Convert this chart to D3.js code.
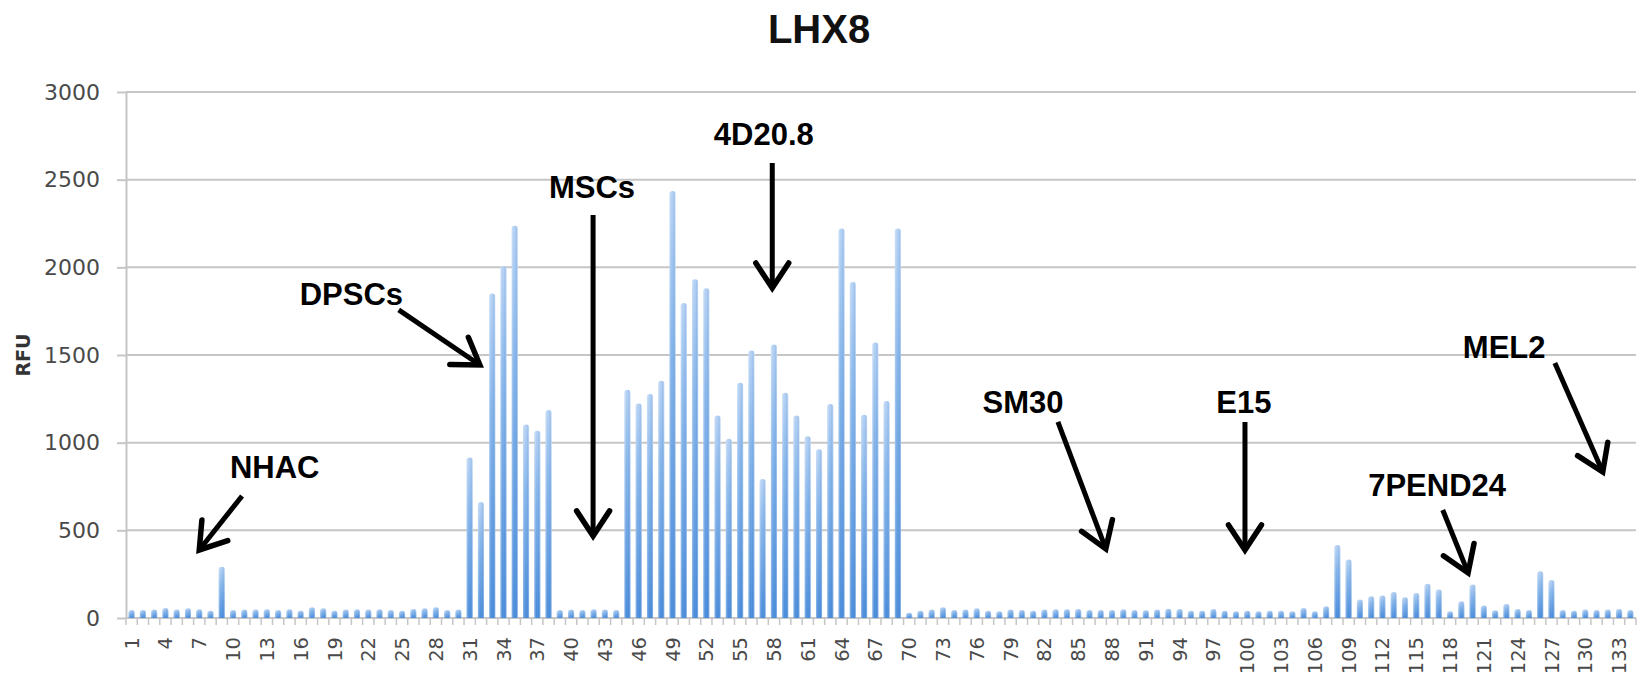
<!DOCTYPE html>
<html>
<head>
<meta charset="utf-8">
<script src="https://cdn.jsdelivr.net/npm/d3@7/dist/d3.min.js"></script>
<style>
  body { margin: 0; background: #fff; }
  svg { display: block; }
</style>
</head>
<body>
<svg id="chart" width="1642" height="677"></svg>
<script>
// ---- data ----
const chartTitle = "LHX8";
const yAxisTitle = "RFU";
const sampleIds = d3.range(1, 135);
const rfuValues = [
  45, 45, 48, 57, 48, 55, 50, 42, 293, 45,
  48, 48, 50, 45, 50, 42, 62, 55, 42, 48,
  50, 48, 50, 45, 42, 52, 55, 62, 45, 48,
  915, 661, 1851, 2008, 2237, 1104, 1068, 1186, 45, 48,
  45, 50, 48, 45, 1302, 1224, 1277, 1353, 2435, 1796,
  1932, 1881, 1155, 1023, 1342, 1526, 793, 1560, 1285, 1155,
  1037, 962, 1220, 2221, 1916, 1159, 1572, 1237, 2221, 30,
  42, 48, 61, 46, 48, 55, 42, 38, 48, 46,
  42, 48, 50, 50, 52, 46, 46, 46, 50, 46,
  44, 48, 53, 51, 42, 42, 51, 42, 38, 42,
  38, 42, 42, 38, 57, 38, 67, 416, 334, 105,
  124, 128, 149, 118, 143, 195, 162, 38, 95, 191,
  72, 44, 80, 51, 45, 266, 217, 45, 42, 48,
  45, 48, 52, 45
];
const yTickValues = [0, 500, 1000, 1500, 2000, 2500, 3000];
const xLabelEvery = 3;

// annotations, anchored in data units (sample position, RFU)
const noteLabels   = ["NHAC", "DPSCs", "MSCs", "4D20.8", "SM30", "E15", "7PEND24", "MEL2"];
const noteTextAt   = [[13.7, 800], [20.5, 1785], [41.85, 2395], [57.1, 2698], [80.1, 1169], [99.7, 1169], [116.85, 696], [122.8, 1483]];
const noteArrowFrom = [[10.8, 696], [24.7, 1757], [41.95, 2298], [57.85, 2595], [83.2, 1118], [99.8, 1118], [117.35, 616], [127.3, 1454]];
const noteArrowTo   = [[7.0, 388], [31.9, 1443], [41.95, 468], [57.85, 1882], [87.45, 394], [99.8, 388], [119.6, 257], [131.55, 833]];

// ---- layout ----
const plot = { left: 126, right: 1636, top: 92, bottom: 618 };

const svg = d3.select("#chart");

const x = d3.scaleBand()
  .domain(sampleIds)
  .range([plot.left, plot.right])
  .paddingInner(0)
  .paddingOuter(0);

const y = d3.scaleLinear()
  .domain([0, 3000])
  .range([plot.bottom, plot.top]);

// continuous position along the sample axis (1 = centre of first band)
const xPos = c => plot.left + (c - 0.5) * x.step();

// ---- gradients for the glossy bars ----
const defs = svg.append("defs");
const vGrad = defs.append("linearGradient")
  .attr("id", "barFill").attr("x1", 0).attr("y1", 0).attr("x2", 0).attr("y2", 1);
vGrad.append("stop").attr("offset", "0%").attr("stop-color", "#b6d2f4");
vGrad.append("stop").attr("offset", "35%").attr("stop-color", "#86b5ea");
vGrad.append("stop").attr("offset", "100%").attr("stop-color", "#4a8cda");

const hGrad = defs.append("linearGradient")
  .attr("id", "barGloss").attr("x1", 0).attr("y1", 0).attr("x2", 1).attr("y2", 0);
hGrad.append("stop").attr("offset", "0%").attr("stop-color", "#ffffff").attr("stop-opacity", 0.35);
hGrad.append("stop").attr("offset", "35%").attr("stop-color", "#ffffff").attr("stop-opacity", 0.0);
hGrad.append("stop").attr("offset", "70%").attr("stop-color", "#2f6fc0").attr("stop-opacity", 0.12);
hGrad.append("stop").attr("offset", "100%").attr("stop-color", "#ffffff").attr("stop-opacity", 0.45);

// ---- gridlines ----
svg.append("g").attr("class", "grid")
  .selectAll("line").data(yTickValues).join("line")
  .attr("x1", plot.left).attr("x2", plot.right)
  .attr("y1", d => y(d)).attr("y2", d => y(d))
  .attr("stroke", "#c6c6c6").attr("stroke-width", 2);

// ---- y axis ----
const yAxis = svg.append("g")
  .attr("transform", `translate(${plot.left},0)`)
  .call(d3.axisLeft(y).tickValues(yTickValues).tickFormat(d3.format("d"))
    .tickSize(9).tickSizeOuter(0).tickPadding(17));
yAxis.select(".domain").attr("stroke", "#c6c6c6").attr("stroke-width", 2);
yAxis.selectAll(".tick line").attr("stroke", "#c6c6c6").attr("stroke-width", 2);
yAxis.selectAll(".tick text")
  .attr("font-family", "'DejaVu Sans', sans-serif")
  .attr("font-size", 22).attr("fill", "#4a4a4a");

// ---- x axis: tick marks on band boundaries, labels every third sample ----
svg.append("g").attr("class", "xticks")
  .selectAll("line").data(d3.range(0, sampleIds.length + 1)).join("line")
  .attr("x1", i => plot.left + i * x.step()).attr("x2", i => plot.left + i * x.step())
  .attr("y1", plot.bottom).attr("y2", plot.bottom + 7)
  .attr("stroke", "#c6c6c6").attr("stroke-width", 1.5);

const xAxis = svg.append("g")
  .attr("transform", `translate(0,${plot.bottom})`)
  .call(d3.axisBottom(x)
    .tickValues(sampleIds.filter((d, i) => i % xLabelEvery === 0))
    .tickSize(0).tickSizeOuter(0));
xAxis.select(".domain").remove();
xAxis.selectAll(".tick text")
  .attr("transform", "rotate(-90)")
  .attr("x", -19).attr("y", 0).attr("dy", "0.36em")
  .attr("text-anchor", "end")
  .attr("font-family", "'DejaVu Sans', sans-serif")
  .attr("font-size", 19.5).attr("fill", "#4a4a4a");

// ---- bars ----
const barW = x.bandwidth() * 0.54;
function barPath(d, i) {
  const x0 = x(sampleIds[i]) + (x.bandwidth() - barW) / 2;
  const yb = y(0), yt = y(d);
  const r = Math.min(barW / 2, yb - yt);
  return `M${x0},${yb}V${yt + r}A${barW / 2},${r} 0 0 1 ${x0 + barW},${yt + r}V${yb}Z`;
}
const bars = svg.append("g").attr("class", "bars");
bars.selectAll("path.fill").data(rfuValues).join("path")
  .attr("class", "fill").attr("d", barPath).attr("fill", "url(#barFill)");
bars.selectAll("path.gloss").data(rfuValues).join("path")
  .attr("class", "gloss").attr("d", barPath).attr("fill", "url(#barGloss)");

// ---- title ----
svg.append("text")
  .attr("x", 819).attr("y", 43)
  .attr("text-anchor", "middle")
  .attr("font-family", "'Liberation Sans', Arial, sans-serif")
  .attr("font-weight", "bold").attr("font-size", 40).attr("fill", "#111")
  .text(chartTitle);

// ---- y axis title ----
svg.append("text")
  .attr("transform", `translate(30,${(plot.top + plot.bottom) / 2}) rotate(-90)`)
  .attr("text-anchor", "middle")
  .attr("font-family", "'DejaVu Sans', sans-serif")
  .attr("font-weight", "bold").attr("font-size", 19).attr("fill", "#333")
  .text(yAxisTitle);

// ---- annotations ----
const notes = svg.append("g").attr("class", "notes");
noteLabels.forEach((label, i) => {
  const [tc, tv] = noteTextAt[i];
  notes.append("text")
    .attr("x", xPos(tc)).attr("y", y(tv))
    .attr("text-anchor", "middle")
    .attr("font-family", "'Liberation Sans', Arial, sans-serif")
    .attr("font-weight", "bold").attr("font-size", 31).attr("fill", "#000")
    .text(label);

  const x1 = xPos(noteArrowFrom[i][0]), y1 = y(noteArrowFrom[i][1]);
  const x2 = xPos(noteArrowTo[i][0]),   y2 = y(noteArrowTo[i][1]);
  const ang = Math.atan2(y2 - y1, x2 - x1);
  const headLen = 30, spread = Math.PI / 5.4;
  const hx1 = x2 - headLen * Math.cos(ang - spread), hy1 = y2 - headLen * Math.sin(ang - spread);
  const hx2 = x2 - headLen * Math.cos(ang + spread), hy2 = y2 - headLen * Math.sin(ang + spread);
  notes.append("line")
    .attr("x1", x1).attr("y1", y1).attr("x2", x2).attr("y2", y2)
    .attr("stroke", "#000").attr("stroke-width", 5);
  notes.append("path")
    .attr("d", `M${hx1},${hy1}L${x2},${y2}L${hx2},${hy2}`)
    .attr("fill", "none").attr("stroke", "#000").attr("stroke-width", 5.5)
    .attr("stroke-linejoin", "miter").attr("stroke-linecap", "round");
});
</script>
</body>
</html>
